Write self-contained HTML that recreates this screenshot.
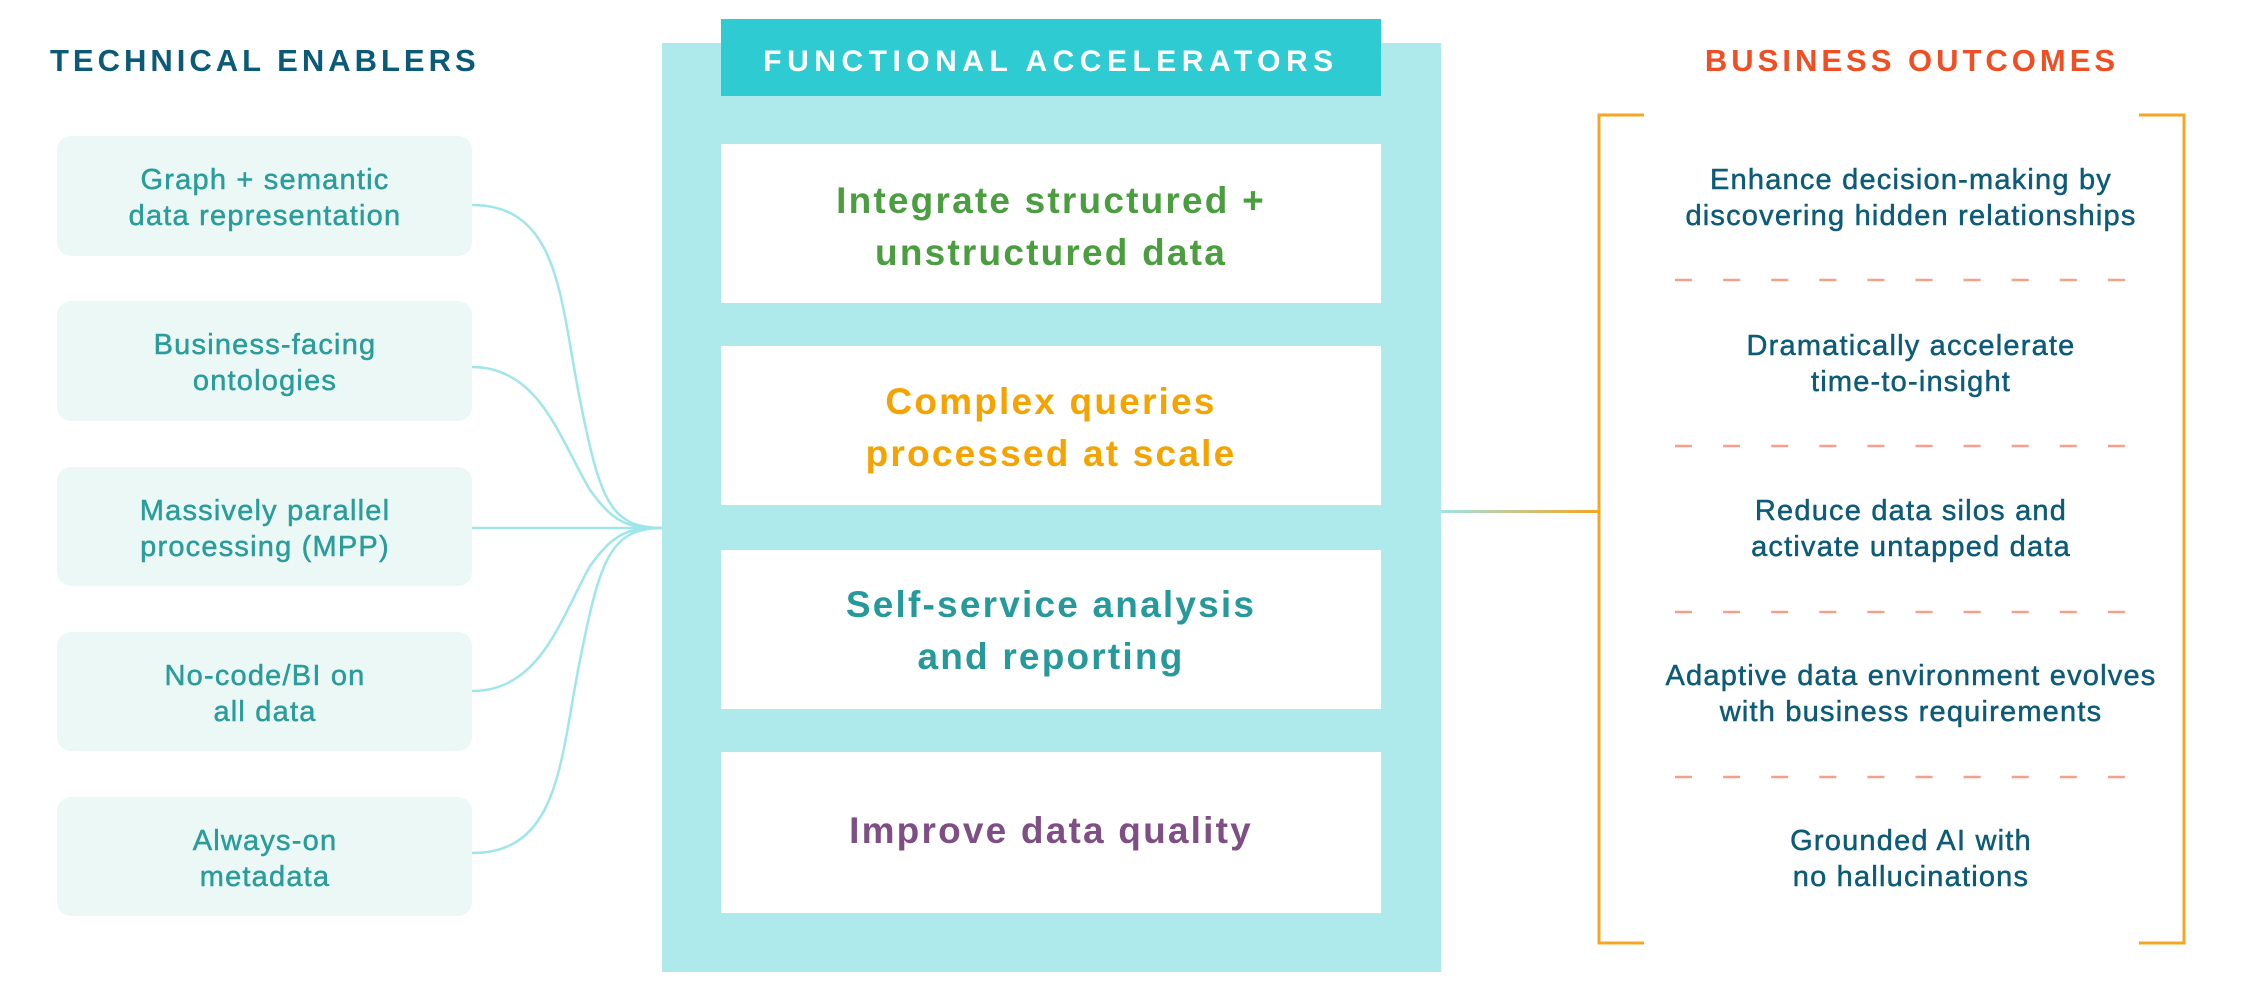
<!DOCTYPE html>
<html><head><meta charset="utf-8"><style>
html,body{margin:0;padding:0;background:#fff;width:2251px;height:991px;overflow:hidden}
svg{display:block}
text{font-family:"Liberation Sans",sans-serif}
</style></head><body>
<svg width="2251" height="991" viewBox="0 0 2251 991" xmlns="http://www.w3.org/2000/svg">
<defs>
<linearGradient id="g" x1="0" x2="1" y1="0" y2="0"><stop offset="0" stop-color="#9fe3e6"/><stop offset="1" stop-color="#f5a623"/></linearGradient>
</defs>
<text x="50" y="71" font-size="31" font-weight="bold" fill="#0a5a78" letter-spacing="4">TECHNICAL ENABLERS</text>
<g fill="#ebf8f6">
<rect x="57" y="136" width="415" height="120" rx="14"/>
<rect x="57" y="301" width="415" height="120" rx="14"/>
<rect x="57" y="467" width="415" height="119" rx="14"/>
<rect x="57" y="632" width="415" height="119" rx="14"/>
<rect x="57" y="797" width="415" height="119" rx="14"/>
</g>
<g font-size="29" fill="#2a9d9b" stroke="#2a9d9b" stroke-width="0.5" text-anchor="middle" letter-spacing="1.2">
<text x="265" y="189">Graph + semantic</text><text x="265" y="225">data representation</text>
<text x="265" y="354">Business-facing</text><text x="265" y="390">ontologies</text>
<text x="265" y="520">Massively parallel</text><text x="265" y="556">processing (MPP)</text>
<text x="265" y="685">No-code/BI on</text><text x="265" y="721">all data</text>
<text x="265" y="850">Always-on</text><text x="265" y="886">metadata</text>
</g>
<g fill="none" stroke="#9fe6ea" stroke-width="2.5">
<path d="M472 205 C560 205 560 300 580 400 C600 500 610 528 662 528"/>
<path d="M472 367 C540 367 560 440 590 490 C615 525 630 528 662 528"/>
<path d="M472 528 L662 528"/>
<path d="M472 691 C540 691 560 620 590 566 C615 531 630 528 662 528"/>
<path d="M472 853 C560 853 560 760 580 660 C600 560 610 528 662 528"/>
</g>
<rect x="662" y="43" width="779" height="929" fill="#aeeaec"/>
<rect x="721" y="19" width="660" height="77" fill="#2ecbd3"/>
<text x="1051" y="71" font-size="30" font-weight="bold" fill="#fff" text-anchor="middle" letter-spacing="5.5">FUNCTIONAL ACCELERATORS</text>
<g fill="#fff">
<rect x="721" y="144" width="660" height="159"/>
<rect x="721" y="346" width="660" height="159"/>
<rect x="721" y="550" width="660" height="159"/>
<rect x="721" y="752" width="660" height="161"/>
</g>
<g font-size="37" font-weight="bold" text-anchor="middle" letter-spacing="2.2">
<text x="1051" y="213" fill="#4a9e3f">Integrate structured +</text>
<text x="1051" y="265" fill="#4a9e3f">unstructured data</text>
<text x="1051" y="414" fill="#f5a300">Complex queries</text>
<text x="1051" y="466" fill="#f5a300">processed at scale</text>
<text x="1051" y="617" fill="#26999b">Self-service analysis</text>
<text x="1051" y="669" fill="#26999b">and reporting</text>
<text x="1051" y="843" fill="#7e4e84">Improve data quality</text>
</g>
<rect x="1441" y="510" width="157" height="3" fill="url(#g)"/>
<g fill="none" stroke="#f5a623" stroke-width="3">
<path d="M1644 115 H1599 V943 H1644"/>
<path d="M2139 115 H2184 V943 H2139"/>
</g>
<text x="1912" y="71" font-size="31" font-weight="bold" fill="#f04e23" text-anchor="middle" letter-spacing="4">BUSINESS OUTCOMES</text>
<g font-size="29" fill="#0c5b78" stroke="#0c5b78" stroke-width="0.5" text-anchor="middle" letter-spacing="1.2">
<text x="1911" y="189">Enhance decision-making by</text><text x="1911" y="225">discovering hidden relationships</text>
<text x="1911" y="355">Dramatically accelerate</text><text x="1911" y="391">time-to-insight</text>
<text x="1911" y="520">Reduce data silos and</text><text x="1911" y="556">activate untapped data</text>
<text x="1911" y="685">Adaptive data environment evolves</text><text x="1911" y="721">with business requirements</text>
<text x="1911" y="850">Grounded AI with</text><text x="1911" y="886">no hallucinations</text>
</g>
<g stroke="#f4a08a" stroke-width="2.5" stroke-dasharray="17 31.1">
<line x1="1675" y1="280" x2="2126" y2="280"/>
<line x1="1675" y1="446" x2="2126" y2="446"/>
<line x1="1675" y1="612" x2="2126" y2="612"/>
<line x1="1675" y1="777" x2="2126" y2="777"/>
</g>
</svg>
</body></html>
